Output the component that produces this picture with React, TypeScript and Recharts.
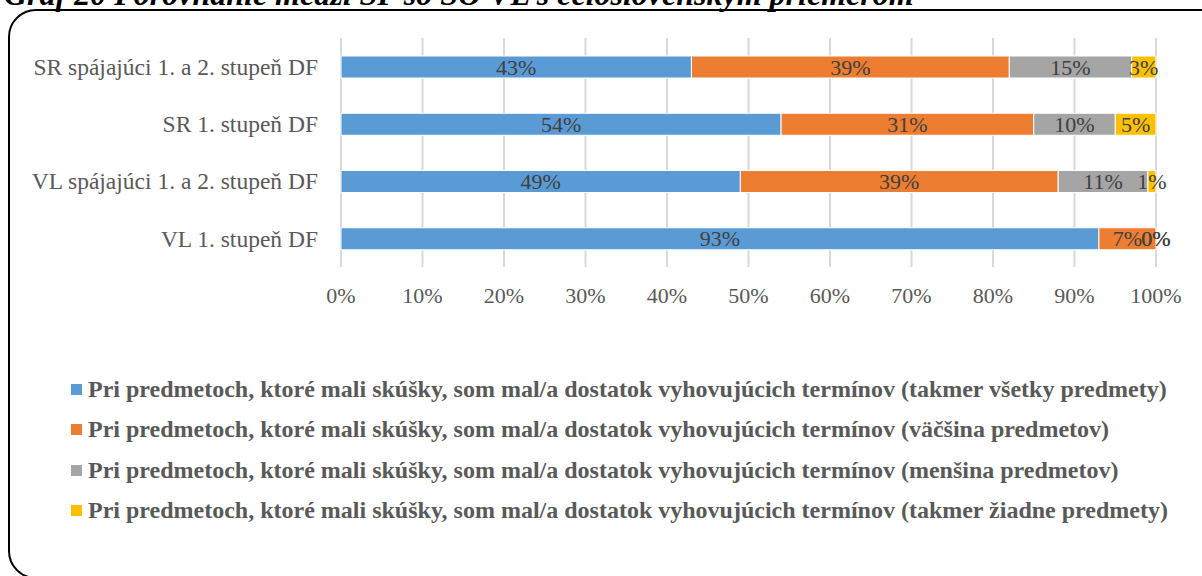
import React from 'react';
import { BarChart, Bar, XAxis, YAxis, CartesianGrid, Legend } from 'recharts';

const categories = [
  'SR spájajúci 1. a 2. stupeň DF',
  'SR 1. stupeň DF',
  'VL spájajúci 1. a 2. stupeň DF',
  'VL 1. stupeň DF',
];

const takmerVsetky = [43, 54, 49, 93];
const vacsina = [39, 31, 39, 7];
const mensina = [15, 10, 11, 0];
const takmerZiadne = [3, 5, 1, 0];

const seriesNames = [
  'Pri predmetoch, ktoré mali skúšky, som mal/a dostatok vyhovujúcich termínov (takmer všetky predmety)',
  'Pri predmetoch, ktoré mali skúšky, som mal/a dostatok vyhovujúcich termínov (väčšina predmetov)',
  'Pri predmetoch, ktoré mali skúšky, som mal/a dostatok vyhovujúcich termínov (menšina predmetov)',
  'Pri predmetoch, ktoré mali skúšky, som mal/a dostatok vyhovujúcich termínov (takmer žiadne predmety)',
];

const xTicks = [0, 10, 20, 30, 40, 50, 60, 70, 80, 90, 100];

const colors = ['#5B9BD5', '#ED7D31', '#A5A5A5', '#FFC000'];
const keys = ['s1', 's2', 's3', 's4'];
const seriesValues = [takmerVsetky, vacsina, mensina, takmerZiadne];

const data = categories.map((name, i) => ({
  name,
  s1: takmerVsetky[i],
  s2: vacsina[i],
  s3: mensina[i],
  s4: takmerZiadne[i],
}));

const serif = '"Liberation Serif", "Times New Roman", serif';

// label in the middle of the segment; zero segments that follow get "0%" at the end
const makeLabel = (k: number) => (props: any) => {
  const { x, y, width, height, index } = props;
  const v = seriesValues[k][index];
  const cy = y + height / 2;
  const extra: React.ReactNode[] = [];
  for (let j = k + 1; j < seriesValues.length && seriesValues[j][index] === 0; j++) {
    extra.push(
      <text key={j} x={x + width} y={cy} textAnchor="middle" dominantBaseline="central"
        fill="#404040" fontSize={22} fontFamily={serif}>0%</text>
    );
  }
  return (
    <g key={`l-${k}-${index}`}>
      {v > 0 && (
        <text x={x + width / 2} y={cy} textAnchor="middle" dominantBaseline="central"
          fill="#404040" fontSize={22} fontFamily={serif}>{`${v}%`}</text>
      )}
      {extra}
    </g>
  );
};

const LegendBox = () => (
  <div style={{ fontFamily: serif }}>
    {seriesNames.map((n, i) => (
      <div key={n} style={{ display: 'flex', alignItems: 'center', height: 40.5 }}>
        <span style={{ display: 'inline-block', width: 11, height: 11, background: colors[i], marginRight: 6 }} />
        <span style={{ fontSize: 24, fontWeight: 'bold', color: '#595959', whiteSpace: 'nowrap' }}>{n}</span>
      </div>
    ))}
  </div>
);

export default function App() {
  return (
    <div style={{ position: 'absolute', left: 0, top: 0, width: 1202, height: 576, overflow: 'hidden', background: '#fff' }}>
      <div
        style={{
          position: 'absolute',
          left: 4,
          top: -22,
          fontFamily: serif,
          fontSize: 32,
          lineHeight: '32px',
          fontWeight: 'bold',
          fontStyle: 'italic',
          whiteSpace: 'nowrap',
        }}
      >
        Graf 20 Porovnanie medzi ŠP so ŠO VL s celoslovenským priemerom
      </div>
      <div
        style={{
          position: 'absolute',
          left: 8,
          top: 9,
          width: 1222,
          height: 566,
          border: '2.5px solid #000',
          borderRadius: 28,
        }}
      />
      <div style={{ position: 'absolute', left: 0, top: 0 }}>
        <BarChart
          width={1202}
          height={576}
          data={data}
          layout="vertical"
          margin={{ top: 38, right: 46, left: 0, bottom: 279 }}
        >
          <CartesianGrid horizontal={false} stroke="#D9D9D9" strokeWidth={2} />
          <XAxis
            type="number"
            domain={[0, 100]}
            ticks={xTicks}
            tickFormatter={(v: number) => `${v}%`}
            axisLine={false}
            tickLine={false}
            tickSize={0}
            tickMargin={20}
            height={30}
            interval={0}
            tick={{ fill: '#595959', fontSize: 22, fontFamily: serif }}
          />
          <YAxis
            type="category"
            dataKey="name"
            width={341}
            axisLine={false}
            tickLine={false}
            tickSize={0}
            tickMargin={23}
            interval={0}
            tick={{ fill: '#595959', fontSize: 23.5, fontFamily: serif }}
          />
          {keys.map((k, i) => (
            <Bar
              key={k}
              dataKey={k}
              stackId="a"
              fill={colors[i]}
              stroke="#fff"
              strokeWidth={1}
              barSize={22}
              isAnimationActive={false}
              label={makeLabel(i)}
            />
          ))}
          <Legend
            layout="vertical"
            verticalAlign="middle"
            align="center"
            wrapperStyle={{ left: 71, top: 369, width: 1120 }}
            content={() => <LegendBox />}
          />
        </BarChart>
      </div>
    </div>
  );
}
